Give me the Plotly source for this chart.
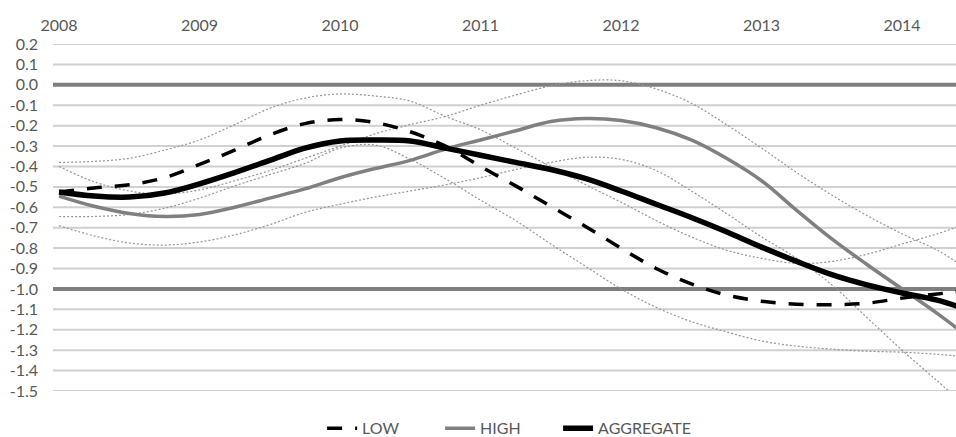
import plotly.graph_objects as go

# Quarterly observation points, 2008Q1 .. 2014Q3
periods = [2008 + q / 4 for q in range(27)]

low = [-0.525, -0.505, -0.49, -0.455, -0.39, -0.32, -0.245, -0.19, -0.17, -0.185,
       -0.23, -0.30, -0.40, -0.495, -0.595, -0.695, -0.80, -0.90, -0.975, -1.03,
       -1.06, -1.075, -1.077, -1.07, -1.045, -1.025, -1.005]
high = [-0.545, -0.595, -0.63, -0.645, -0.635, -0.60, -0.555, -0.51, -0.455, -0.41,
        -0.37, -0.315, -0.27, -0.225, -0.18, -0.165, -0.175, -0.21, -0.27, -0.36,
        -0.47, -0.615, -0.755, -0.88, -1.00, -1.12, -1.25]
aggregate = [-0.525, -0.545, -0.55, -0.53, -0.485, -0.43, -0.37, -0.31, -0.275, -0.27,
             -0.275, -0.31, -0.345, -0.38, -0.415, -0.46, -0.52, -0.585, -0.65, -0.72,
             -0.795, -0.865, -0.93, -0.98, -1.02, -1.055, -1.11]

# Confidence bounds around the LOW and HIGH paths
low_upper = [-0.38, -0.375, -0.36, -0.32, -0.27, -0.195, -0.115, -0.065, -0.045, -0.055,
             -0.08, -0.155, -0.22, -0.31, -0.40, -0.49, -0.575, -0.665, -0.745, -0.81,
             -0.85, -0.875, -0.865, -0.83, -0.78, -0.73, -0.67]
low_lower = [-0.645, -0.645, -0.635, -0.605, -0.555, -0.495, -0.44, -0.385, -0.31, -0.295,
             -0.365, -0.46, -0.565, -0.665, -0.78, -0.89, -1.00, -1.09, -1.16, -1.21,
             -1.255, -1.28, -1.295, -1.305, -1.31, -1.32, -1.335]
high_upper = [-0.40, -0.475, -0.52, -0.535, -0.515, -0.47, -0.42, -0.36, -0.30, -0.24,
              -0.195, -0.155, -0.10, -0.05, -0.005, 0.02, 0.02, -0.02, -0.09, -0.195,
              -0.31, -0.43, -0.54, -0.64, -0.73, -0.81, -0.92]
high_lower = [-0.69, -0.74, -0.775, -0.785, -0.77, -0.735, -0.685, -0.625, -0.585, -0.55,
              -0.52, -0.49, -0.455, -0.415, -0.38, -0.355, -0.365, -0.42, -0.52, -0.63,
              -0.745, -0.85, -0.98, -1.14, -1.30, -1.45, -1.60]

years = [2008, 2009, 2010, 2011, 2012, 2013, 2014]
y_ticks = [0.2, 0.1, 0.0, -0.1, -0.2, -0.3, -0.4, -0.5, -0.6, -0.7, -0.8, -0.9,
           -1.0, -1.1, -1.2, -1.3, -1.4, -1.5]
reference_levels = [0.0, -1.0]

FONT = "Lato"
TEXT = "#595959"

fig = go.Figure()

for band in (low_upper, low_lower, high_upper, high_lower):
    fig.add_trace(go.Scatter(
        x=periods, y=band, mode="lines", showlegend=False, hoverinfo="skip",
        line=dict(color="#959595", width=1.2, dash="2px,2px", shape="spline", smoothing=1.0),
    ))

fig.add_trace(go.Scatter(
    x=periods, y=high, mode="lines", name="HIGH", legendrank=2,
    line=dict(color="#808080", width=3.5, shape="spline", smoothing=1.0),
))
fig.add_trace(go.Scatter(
    x=periods, y=aggregate, mode="lines", name="AGGREGATE", legendrank=3, legendwidth=110,
    line=dict(color="#000000", width=5.5, shape="spline", smoothing=1.0),
))
fig.add_trace(go.Scatter(
    x=periods, y=low, mode="lines", name="LOW", legendrank=1,
    line=dict(color="#000000", width=3.5, dash="15px,13px", shape="spline", smoothing=1.0),
))

# Horizontal grid: light rules at every tick, heavy rules at the reference levels
for level in y_ticks:
    if level in reference_levels:
        continue
    fig.add_hline(y=level, line=dict(color="#d0d0d0", width=2), layer="below")
for level in reference_levels:
    fig.add_hline(y=level, line=dict(color="#7f7f7f", width=4), layer="below")

fig.update_layout(
    width=956, height=437,
    margin=dict(l=53, r=0, t=44, b=46),
    paper_bgcolor="white", plot_bgcolor="white",
    font=dict(family=FONT, size=16, color=TEXT),
    legend=dict(
        orientation="h", x=0.298, xanchor="left",
        yref="container", y=0.02, yanchor="middle",
        font=dict(family=FONT, size=16, color=TEXT),
        entrywidthmode="pixels", entrywidth=73,
        bgcolor="rgba(0,0,0,0)",
    ),
    xaxis=dict(
        side="top", range=[2007.957, 2014.384], tickmode="array",
        tickvals=years, ticktext=[str(y) for y in years],
        showgrid=False, zeroline=False, showline=False, ticks="",
        ticklabelstandoff=9,
    ),
    yaxis=dict(
        range=[-1.5, 0.2], tickmode="array", tickvals=y_ticks,
        ticktext=[f"{v:.1f}" for v in y_ticks],
        showgrid=False, zeroline=False, showline=False, ticks="", ticklabelstandoff=14,
    ),
)

fig.write_html("out.html")
